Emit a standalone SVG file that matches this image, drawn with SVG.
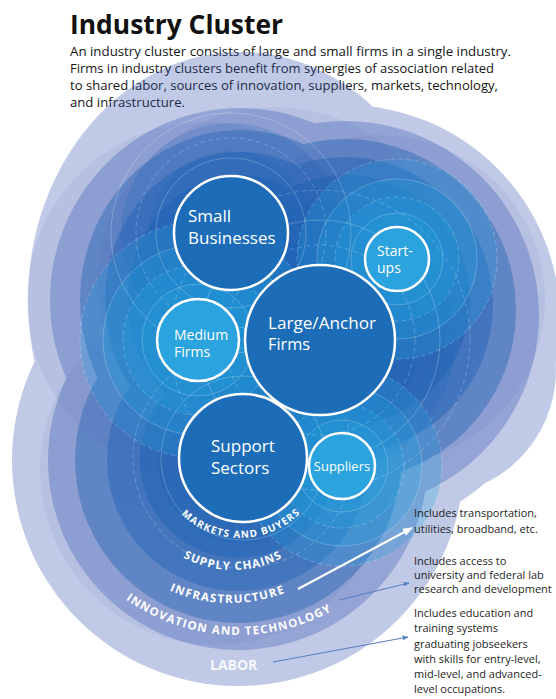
<svg xmlns="http://www.w3.org/2000/svg" width="556" height="699" viewBox="0 0 556 699">
  <defs>
    <style>
      .title { font-family: "Open Sans", "Liberation Sans", sans-serif; font-weight: 700; font-size: 27px; fill: #111111; }
      .para { font-family: "Open Sans", "Liberation Sans", sans-serif; font-size: 12px; fill: #151515; }
      .note { font-family: "Open Sans", "Liberation Sans", sans-serif; font-size: 11px; fill: #1e1e1e; }
      .lbl { font-family: "Open Sans", "Liberation Sans", sans-serif; fill: #ffffff; }
      .big { font-size: 17px; }
      .mid { font-size: 14px; }
      .sml { font-size: 13px; }
      .ring { font-family: "Open Sans", "Liberation Sans", sans-serif; font-weight: 700; fill: #ffffff; }
      .outer { fill: #3250af; }
      .inner { fill: #145fb4; }
      .ghost { fill: #3250af; opacity: 0.07; }
      .cyan { fill: #1fa2de; opacity: 0.25; }
      .navy { fill: #1462b5; opacity: 0.18; }
      .guide { fill: none; stroke: #ffffff; stroke-opacity: 0.28; stroke-width: 0.8; }
      .dash { stroke-dasharray: 5 3; }
      .node-dark { fill: #1c6cb8; stroke: #ffffff; stroke-width: 2.5; }
      .node-light { fill: #2aa3de; stroke: #ffffff; stroke-width: 2.5; }
    </style>
    <marker id="arrowWhite" viewBox="0 0 10 10" refX="9" refY="5" markerWidth="5" markerHeight="5" orient="auto">
      <path d="M0,1 L10,5 L0,9 z" fill="#ffffff"/>
    </marker>
    <marker id="arrowBlue" viewBox="0 0 10 10" refX="9" refY="5" markerWidth="5" markerHeight="5" orient="auto">
      <path d="M0,1 L10,5 L0,9 z" fill="#5b7fc2"/>
    </marker>
    <path id="arcMarkets" d="M155,453 A85,85 0 0,0 325,453"/>
    <path id="arcSupply" d="M128,465 A105,105 0 0,0 338,465"/>
    <path id="arcInfra" d="M77,450 A153,153 0 0,0 383,450"/>
    <path id="arcInnov" d="M43,440 A195,195 0 0,0 433,440"/>
  </defs>

  <rect width="556" height="699" fill="#ffffff"/>

  <!-- heading and intro text -->
  <g id="heading">
    <text class="title" x="70" y="34" textLength="213" lengthAdjust="spacingAndGlyphs">Industry Cluster</text>
    <text class="para" x="70" y="56" textLength="441" lengthAdjust="spacingAndGlyphs">An industry cluster consists of large and small firms in a single industry.</text>
    <text class="para" x="70" y="73" textLength="424" lengthAdjust="spacingAndGlyphs">Firms in industry clusters benefit from synergies of association related</text>
    <text class="para" x="70" y="90" textLength="428" lengthAdjust="spacingAndGlyphs">to shared labor, sources of innovation, suppliers, markets, technology,</text>
    <text class="para" x="70" y="107" textLength="115" lengthAdjust="spacingAndGlyphs">and infrastructure.</text>
  </g>

  <!-- surrounding environment: five nested levels, outermost first -->
  <g id="level-labor" opacity="0.3">
    <ellipse class="outer" cx="240" cy="300" rx="212" ry="248"/>
    <circle class="outer" cx="345" cy="320" r="215"/>
    <circle class="outer" cx="430" cy="370" r="126"/>
    <circle class="outer" cx="238" cy="460" r="226"/>
  </g>
  <g id="level-innovation" opacity="0.3">
    <ellipse class="outer" cx="240" cy="300" rx="190" ry="192"/>
    <circle class="outer" cx="345" cy="315" r="194"/>
    <circle class="outer" cx="238" cy="460" r="190"/>
  </g>
  <g id="level-infrastructure" opacity="0.38">
    <ellipse class="inner" cx="240" cy="300" rx="160" ry="170"/>
    <circle class="inner" cx="345" cy="310" r="171"/>
    <circle class="inner" cx="238" cy="460" r="163"/>
  </g>
  <g id="level-supply" opacity="0.38">
    <ellipse class="inner" cx="240" cy="300" rx="135" ry="148"/>
    <circle class="inner" cx="345" cy="305" r="148"/>
    <circle class="inner" cx="238" cy="460" r="131"/>
  </g>
  <g id="level-markets" opacity="0.38">
    <ellipse class="inner" cx="240" cy="300" rx="112" ry="125"/>
    <circle class="inner" cx="345" cy="300" r="125"/>
    <circle class="inner" cx="238" cy="460" r="98"/>
  </g>

  <!-- offset copies that give the layered edges -->
  <g id="ghosts">
    <circle class="ghost" cx="205" cy="300" r="178"/>
    <circle class="ghost" cx="275" cy="285" r="178"/>
    <circle class="ghost" cx="380" cy="300" r="165"/>
    <circle class="ghost" cx="215" cy="470" r="175"/>
  </g>

  <!-- halos round the larger firms -->
  <g id="halos-dark">
    <circle class="navy" cx="231" cy="233" r="110"/>
    <circle class="navy" cx="231" cy="233" r="82"/>
    <circle class="navy" cx="320" cy="340" r="135"/>
    <circle class="navy" cx="320" cy="340" r="100"/>
    <circle class="navy" cx="243" cy="458" r="86"/>
  </g>

  <!-- halos round the smaller firms -->
  <g id="halos-light">
    <circle class="cyan" cx="397" cy="259" r="100"/>
    <circle class="cyan" cx="397" cy="259" r="80"/>
    <circle class="cyan" cx="397" cy="259" r="62"/>
    <circle class="cyan" cx="397" cy="259" r="46"/>
    <circle class="cyan" cx="342" cy="466" r="100"/>
    <circle class="cyan" cx="342" cy="466" r="80"/>
    <circle class="cyan" cx="342" cy="466" r="62"/>
    <circle class="cyan" cx="342" cy="466" r="46"/>
    <circle class="cyan" cx="198" cy="340" r="118"/>
    <circle class="cyan" cx="198" cy="340" r="95"/>
    <circle class="cyan" cx="198" cy="340" r="75"/>
    <circle class="cyan" cx="198" cy="340" r="56"/>
  </g>

  <!-- fine guide circles -->
  <g id="guides">
    <circle class="guide" cx="231" cy="233" r="75"/>
    <circle class="guide dash" cx="231" cy="233" r="95"/>
    <circle class="guide" cx="231" cy="233" r="120"/>
    <circle class="guide dash" cx="320" cy="340" r="95"/>
    <circle class="guide" cx="320" cy="340" r="120"/>
    <circle class="guide dash" cx="320" cy="340" r="150"/>
    <circle class="guide" cx="243" cy="458" r="82"/>
    <circle class="guide dash" cx="243" cy="458" r="110"/>
    <circle class="guide" cx="397" cy="259" r="46"/>
    <circle class="guide dash" cx="397" cy="259" r="62"/>
    <circle class="guide" cx="397" cy="259" r="80"/>
    <circle class="guide dash" cx="397" cy="259" r="100"/>
    <circle class="guide" cx="342" cy="466" r="46"/>
    <circle class="guide dash" cx="342" cy="466" r="62"/>
    <circle class="guide" cx="342" cy="466" r="80"/>
    <circle class="guide dash" cx="342" cy="466" r="100"/>
    <circle class="guide" cx="198" cy="340" r="56"/>
    <circle class="guide dash" cx="198" cy="340" r="75"/>
    <circle class="guide" cx="198" cy="340" r="95"/>
    <circle class="guide dash" cx="198" cy="340" r="118"/>
  </g>

  <!-- level names -->
  <g id="level-labels">
    <text class="ring" font-size="10" letter-spacing="1.1"><textPath href="#arcMarkets" startOffset="50.5%" text-anchor="middle">MARKETS AND BUYERS</textPath></text>
    <text class="ring" font-size="11.5" letter-spacing="1.1"><textPath href="#arcSupply" startOffset="50%" text-anchor="middle">SUPPLY CHAINS</textPath></text>
    <text class="ring" font-size="11.5" letter-spacing="1.3"><textPath href="#arcInfra" startOffset="49.5%" text-anchor="middle">INFRASTRUCTURE</textPath></text>
    <text class="ring" font-size="11.5" letter-spacing="1.25"><textPath href="#arcInnov" startOffset="48.3%" text-anchor="middle">INNOVATION AND TECHNOLOGY</textPath></text>
    <text class="ring" font-size="14" x="210" y="670" fill-opacity="0.9">LABOR</text>
  </g>

  <!-- firms -->
  <g id="node-small">
    <circle class="node-dark" cx="231" cy="233" r="57"/>
    <text class="lbl big" x="188" y="222">Small</text>
    <text class="lbl big" x="188" y="244">Businesses</text>
  </g>
  <g id="node-large">
    <circle class="node-dark" cx="320" cy="340" r="75"/>
    <text class="lbl big" x="268" y="329" textLength="108" lengthAdjust="spacingAndGlyphs">Large/Anchor</text>
    <text class="lbl big" x="268" y="350" textLength="42" lengthAdjust="spacingAndGlyphs">Firms</text>
  </g>
  <g id="node-startups">
    <circle class="node-light" cx="397" cy="259" r="32"/>
    <text class="lbl mid" x="377" y="256">Start-</text>
    <text class="lbl mid" x="377" y="273">ups</text>
  </g>
  <g id="node-medium">
    <circle class="node-light" cx="198" cy="340" r="41"/>
    <text class="lbl mid" x="174" y="340">Medium</text>
    <text class="lbl mid" x="174" y="357">Firms</text>
  </g>
  <g id="node-support">
    <circle class="node-dark" cx="243" cy="458" r="64"/>
    <text class="lbl big" x="211" y="452">Support</text>
    <text class="lbl big" x="211" y="474">Sectors</text>
  </g>
  <g id="node-suppliers">
    <circle class="node-light" cx="342" cy="466" r="33"/>
    <text class="lbl sml" x="342" y="471" text-anchor="middle">Suppliers</text>
  </g>

  <!-- pointers to the notes -->
  <g id="connectors" fill="none">
    <line x1="298" y1="589" x2="412" y2="528" stroke="#ffffff" stroke-width="2" marker-end="url(#arrowWhite)"/>
    <line x1="339" y1="600" x2="409" y2="583" stroke="#5b7fc2" stroke-width="1.2" marker-end="url(#arrowBlue)"/>
    <line x1="273" y1="662" x2="408" y2="637" stroke="#5b7fc2" stroke-width="1.2" marker-end="url(#arrowBlue)"/>
  </g>

  <!-- notes -->
  <g id="notes">
    <text class="note" x="414" y="517">Includes transportation,</text>
    <text class="note" x="414" y="533">utilities, broadband, etc.</text>
    <text class="note" x="414" y="565">Includes access to</text>
    <text class="note" x="414" y="579">university and federal lab</text>
    <text class="note" x="414" y="593">research and development</text>
    <text class="note" x="414" y="617">Includes education and</text>
    <text class="note" x="414" y="632">training systems</text>
    <text class="note" x="414" y="648">graduating jobseekers</text>
    <text class="note" x="414" y="663">with skills for entry-level,</text>
    <text class="note" x="414" y="678">mid-level, and advanced-</text>
    <text class="note" x="414" y="693">level occupations.</text>
  </g>
</svg>
